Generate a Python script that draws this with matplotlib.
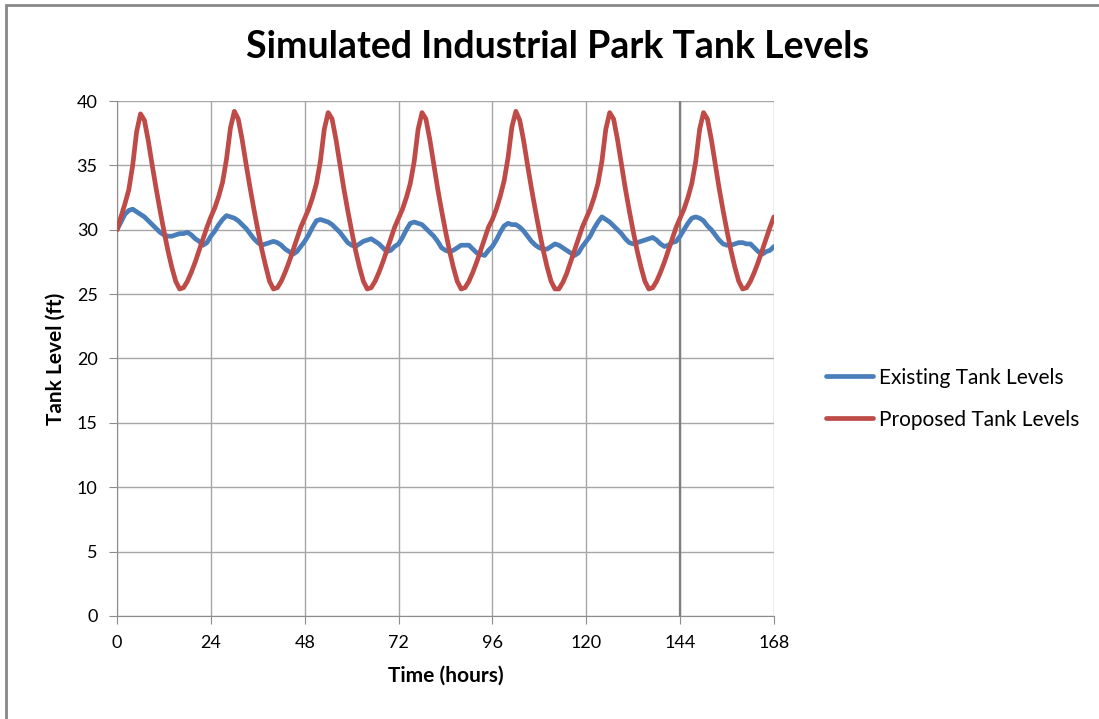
import matplotlib.pyplot as plt
import matplotlib.patches as mpatches
import numpy as np

plt.rcParams['font.family'] = ['Lato', 'DejaVu Sans']

# hourly time axis, 0..168 h
hours = list(range(0, 169))

# existing tank levels (ft)
existing = [
    30.0, 30.6, 31.2, 31.5, 31.6, 31.4, 31.2, 31.0, 30.7, 30.4, 30.1, 29.8,
    29.6, 29.5, 29.5, 29.6, 29.7, 29.7, 29.8, 29.6, 29.3, 29.1, 28.8, 29.0,
    29.5, 29.9, 30.4, 30.8, 31.1, 31.0, 30.9, 30.7, 30.4, 30.1, 29.7, 29.3,
    29.0, 28.8, 28.9, 29.0, 29.1, 29.0, 28.8, 28.5, 28.3, 28.1, 28.3, 28.7,
    29.1, 29.6, 30.2, 30.7, 30.8, 30.7, 30.6, 30.4, 30.1, 29.8, 29.4, 29.0,
    28.8, 28.7, 28.9, 29.1, 29.2, 29.3, 29.1, 28.9, 28.6, 28.3, 28.4, 28.7,
    28.9, 29.4, 30.0, 30.5, 30.6, 30.5, 30.4, 30.1, 29.8, 29.5, 29.1, 28.6,
    28.4, 28.3, 28.4, 28.6, 28.8, 28.8, 28.8, 28.5, 28.2, 28.1, 28.0, 28.4,
    28.7, 29.2, 29.8, 30.3, 30.5, 30.4, 30.4, 30.2, 29.9, 29.5, 29.1, 28.8,
    28.6, 28.5, 28.5, 28.7, 28.9, 28.8, 28.6, 28.4, 28.2, 28.0, 28.2, 28.7,
    29.1, 29.5, 30.1, 30.6, 31.0, 30.8, 30.6, 30.3, 30.0, 29.7, 29.3, 29.0,
    28.9, 29.0, 29.1, 29.2, 29.3, 29.4, 29.2, 28.9, 28.7, 28.8, 29.0, 29.1,
    29.5, 30.0, 30.5, 30.9, 31.0, 30.9, 30.7, 30.3, 30.0, 29.6, 29.2, 28.9,
    28.8, 28.8, 28.9, 29.0, 29.0, 28.9, 28.9, 28.6, 28.3, 28.1, 28.3, 28.4,
    28.7,
]

# proposed tank levels (ft)
proposed = [
    30.0, 31.0, 32.0, 33.1, 35.0, 37.6, 39.0, 38.5, 36.9, 35.0, 33.2, 31.5,
    29.9, 28.4, 27.1, 26.0, 25.4, 25.5, 26.0, 26.7, 27.5, 28.4, 29.3, 30.2,
    31.0, 31.7, 32.6, 33.7, 35.5, 37.9, 39.2, 38.6, 37.0, 35.1, 33.3, 31.6,
    30.0, 28.5, 27.2, 26.0, 25.4, 25.5, 26.0, 26.7, 27.5, 28.4, 29.3, 30.2,
    30.9, 31.6, 32.5, 33.6, 35.3, 37.8, 39.1, 38.6, 37.0, 35.1, 33.2, 31.5,
    29.9, 28.4, 27.1, 26.0, 25.4, 25.5, 26.0, 26.7, 27.5, 28.4, 29.3, 30.2,
    30.9, 31.6, 32.5, 33.6, 35.3, 37.8, 39.1, 38.6, 37.0, 35.1, 33.2, 31.5,
    29.9, 28.4, 27.1, 26.0, 25.4, 25.5, 26.0, 26.7, 27.5, 28.4, 29.3, 30.2,
    30.8, 31.6, 32.6, 33.8, 35.6, 38.0, 39.2, 38.5, 36.9, 35.0, 33.2, 31.5,
    29.9, 28.4, 27.1, 26.0, 25.4, 25.4, 25.9, 26.6, 27.5, 28.4, 29.3, 30.2,
    30.9, 31.6, 32.5, 33.6, 35.3, 37.8, 39.1, 38.6, 37.0, 35.1, 33.2, 31.5,
    29.9, 28.4, 27.1, 26.0, 25.4, 25.5, 26.0, 26.7, 27.5, 28.4, 29.3, 30.2,
    30.9, 31.6, 32.5, 33.6, 35.3, 37.8, 39.1, 38.6, 37.0, 35.1, 33.2, 31.5,
    29.9, 28.4, 27.1, 26.0, 25.4, 25.5, 26.0, 26.7, 27.5, 28.4, 29.3, 30.2,
    31.0,
]

x_ticks = [0, 24, 48, 72, 96, 120, 144, 168]
y_ticks = [0, 5, 10, 15, 20, 25, 30, 35, 40]

fig = plt.figure(figsize=(10.99, 7.19), dpi=100)
ax = fig.add_axes([0.1065, 0.1433, 0.5977, 0.7162])

# outer chart border (left/top visible)
fig.patches.append(mpatches.Rectangle((0.0055, -0.01), 1.1, 1.003,
                                      transform=fig.transFigure, fill=False,
                                      edgecolor='#888888', linewidth=2))

ax.plot(hours, existing, color='#4a7ebb', linewidth=3.4,
        label='Existing Tank Levels', solid_capstyle='round',
        solid_joinstyle='round', zorder=3)
ax.plot(hours, proposed, color='#be4b48', linewidth=3.4,
        label='Proposed Tank Levels', solid_capstyle='round',
        solid_joinstyle='round', zorder=3)

ax.set_xlim(0, 168)
ax.set_ylim(0, 40)
ax.set_xticks(x_ticks)
ax.set_yticks(y_ticks)
ax.grid(True, color='#a6a6a6', linewidth=1)
ax.axvline(144, color='#7f7f7f', linewidth=1.6, zorder=2)
ax.set_axisbelow(True)

for s in ['top', 'right']:
    ax.spines[s].set_visible(False)
for s in ['left', 'bottom']:
    ax.spines[s].set_color('#8c8c8c')
ax.tick_params(axis='both', direction='out', length=6, color='#8c8c8c',
               labelsize=13, pad=8)

ax.set_xlabel('Time (hours)', fontsize=15, fontweight='bold', labelpad=10)
ax.set_ylabel('Tank Level (ft)', fontsize=15, fontweight='bold', labelpad=8)
fig.suptitle('Simulated Industrial Park Tank Levels', x=0.507, y=0.958,
             fontsize=27, fontweight='bold')

ax.legend(loc='center left', bbox_to_anchor=(1.08, 0.422), frameon=False,
          fontsize=15, handlelength=2.25, handletextpad=0.25,
          labelspacing=1.05, borderpad=0, borderaxespad=0)

plt.savefig('out.png', dpi=100)
